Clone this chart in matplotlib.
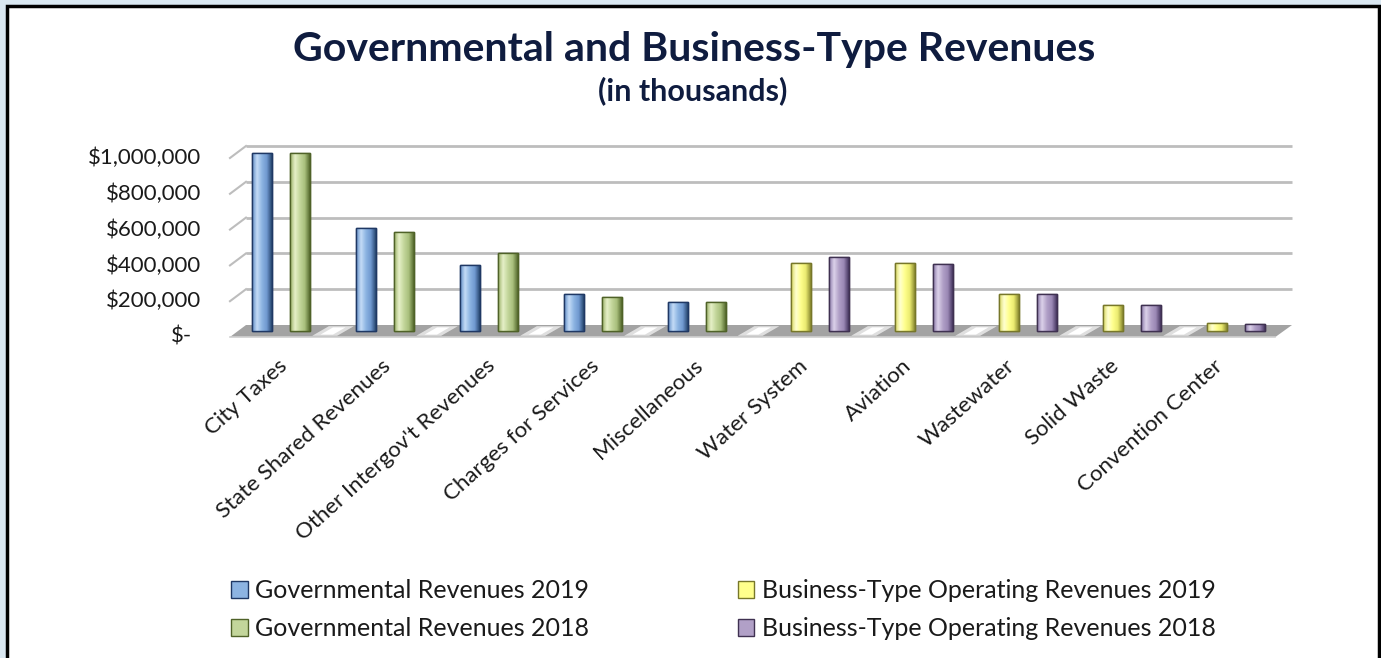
import numpy as np
import matplotlib
matplotlib.use("Agg")
import matplotlib.pyplot as plt
from matplotlib.patches import Rectangle, Polygon, Patch
from matplotlib.colors import LinearSegmentedColormap

# categories and values (in thousands of $)
categories = ["City Taxes", "State Shared Revenues", "Other Intergov't Revenues",
              "Charges for Services", "Miscellaneous", "Water System", "Aviation",
              "Wastewater", "Solid Waste", "Convention Center"]
gov_2019 = [995000, 575000, 369000, 207000, 162000, 0, 0, 0, 0, 0]
gov_2018 = [993000, 553000, 436000, 190000, 160000, 0, 0, 0, 0, 0]
bus_2019 = [0, 0, 0, 0, 0, 380000, 380000, 207000, 145000, 45000]
bus_2018 = [0, 0, 0, 0, 0, 413000, 374000, 207000, 145000, 40000]
series_names = ["Governmental Revenues 2019", "Business-Type Operating Revenues 2019",
                "Governmental Revenues 2018", "Business-Type Operating Revenues 2018"]
ytick_vals = [0, 200000, 400000, 600000, 800000, 1000000]
ytick_labels = ["$-", "$200,000", "$400,000", "$600,000", "$800,000", "$1,000,000"]

W, H = 1381, 658
def fx(p):
    return p / W
def fy(p):
    return 1 - p / H

plt.rcParams['font.family'] = ['Lato', 'DejaVu Sans']

fig = plt.figure(figsize=(W / 100, H / 100), dpi=100, facecolor="#d9e7f1")
# white chart area with black frame
fig.patches.append(Rectangle((fx(7), -0.02), fx(1372), fy(6) + 0.02, transform=fig.transFigure,
                             facecolor="white", edgecolor="black", linewidth=2.5, zorder=-1))

# axes: category k at pixel 290.5 + 104k, value 0 at pixel 331, 179 px per 1,000,000
xl, xr = -0.7, 9.9
yb, yt = -80000, 1180000
ax = fig.add_axes([fx(290.5 + xl * 104), fy(331 + (-yb) * 179e-6),
                   fx((xr - xl) * 104), (yt - yb) * 179e-6 / H])
ax.set_axis_off()
ax.set_zorder(2)

dv = 33500   # depth offset in value units (~6 px)
# back-plane gridlines + left diagonal
for v in ytick_vals[1:]:
    ax.plot([-0.428, 9.63], [v + dv, v + dv], color="#bdbdbd", lw=2, zorder=1, solid_capstyle="butt")
    ax.plot([-0.582, -0.428], [v - dv, v + dv], color="#bdbdbd", lw=1.5, zorder=1)

# floor
ax.add_patch(Polygon([[-0.582, -dv], [9.47, -dv], [9.63, dv], [-0.428, dv]],
                     closed=True, facecolor="#a3a3a3", edgecolor="none", zorder=2))
ax.plot([-0.582, 9.47], [-dv, -dv], color="#d0d0d0", lw=1.2, zorder=2)

x = np.arange(len(categories))
slot = 19 / 104
offsets = [-1.5 * slot, -0.5 * slot, 0.5 * slot, 1.5 * slot]
series = [gov_2019, bus_2019, gov_2018, bus_2018]

# floor glare between groups
centers = []
for k in range(len(categories) - 1):
    right_edge = k + (0.5 * slot if gov_2019[k] else 1.5 * slot) + 0.1
    left_next = k + 1 + (-1.5 * slot if gov_2019[k + 1] else -0.5 * slot) - 0.1
    centers.append((right_edge + left_next) / 2)
for c in centers:
    ax.add_patch(Polygon([[c - 0.2, -dv * 0.8], [c + 0.04, -dv * 0.8], [c + 0.2, dv * 0.8], [c - 0.04, dv * 0.8]],
                         closed=True, facecolor="#f4f4f4", edgecolor="none", alpha=0.75, zorder=2))
    ax.add_patch(Polygon([[c - 0.12, -dv * 0.6], [c + 0.0, -dv * 0.6], [c + 0.12, dv * 0.6], [c - 0.0, dv * 0.6]],
                         closed=True, facecolor="white", edgecolor="none", zorder=2))

face = ["#8db4e2", "#ffff8c", "#c3d69b", "#b1a0c7"]
edge = ["#1f3864", "#77772a", "#4f6228", "#3f3151"]
grads = [["#5f8bc4", "#c4dcf7", "#8db4e2", "#6f98cf", "#27466f"],
         ["#d8d860", "#ffffd0", "#ffff8c", "#eaea70", "#8a8a30"],
         ["#9ab067", "#e6f0c8", "#c3d69b", "#a8bf7c", "#55692d"],
         ["#8a78a8", "#dcd2ea", "#b1a0c7", "#9a88b4", "#463660"]]

bw = 0.19
for s, vals in enumerate(series):
    cmap = LinearSegmentedColormap.from_list("g%d" % s, grads[s])
    grad = np.linspace(0, 1, 64).reshape(1, -1)
    bars = ax.bar(x + offsets[s], vals, width=bw, color=face[s], edgecolor=edge[s],
                  linewidth=1.0, zorder=3)
    for b in bars:
        if b.get_height() <= 0:
            b.set_visible(False)
            continue
        im = ax.imshow(grad, cmap=cmap, aspect="auto", zorder=3.5,
                       extent=[b.get_x(), b.get_x() + b.get_width(), 0, b.get_height()])
        im.set_clip_path(b)
        ax.add_patch(Rectangle((b.get_x(), 0), b.get_width(), b.get_height(), fill=False,
                               edgecolor=edge[s], linewidth=1.0, zorder=4))

# y labels on the front plane
for v, lab in zip(ytick_vals, ytick_labels):
    xpos = -0.86 if v else -0.95
    ax.text(xpos, v - dv, lab, ha="right", va="center", fontsize=16, color="#1a1a1a", clip_on=False)

# category labels
for k, name in enumerate(categories):
    ax.text(k - 0.06, -179000, name, rotation=42, ha="right", va="center", rotation_mode="anchor",
            fontsize=16, color="#1a1a1a", clip_on=False)

ax.set_xlim(xl, xr)
ax.set_ylim(yb, yt)

fig.text(fx(694), fy(50), "Governmental and Business-Type Revenues", ha="center", va="center",
         fontsize=29.5, fontweight="bold", color="#0f1c3f")
fig.text(fx(693), fy(91), "(in thousands)", ha="center", va="center",
         fontsize=22, fontweight="bold", color="#0f1c3f")

handles = [Patch(facecolor=face[i], edgecolor=edge[i]) for i in (0, 2, 1, 3)]
labels = [series_names[i] for i in (0, 2, 1, 3)]
fig.legend(handles, labels, loc="upper left", bbox_to_anchor=(fx(219), fy(567)), ncol=2,
           frameon=False, fontsize=18, handlelength=0.65, handleheight=0.65, handletextpad=0.3,
           columnspacing=5.95, labelspacing=0.6, borderpad=0, labelcolor="#1a1a1a")

fig.savefig("out.png", dpi=100, facecolor=fig.get_facecolor())
